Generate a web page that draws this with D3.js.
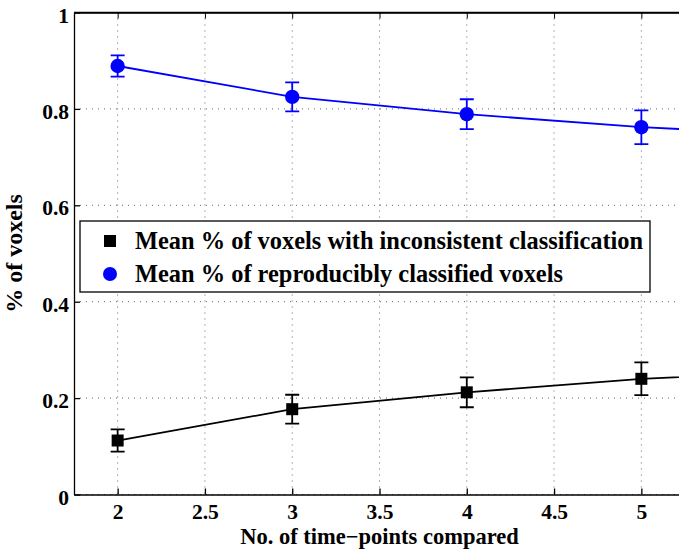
<!DOCTYPE html>
<html>
<head>
<meta charset="utf-8">
<script src="https://cdn.jsdelivr.net/npm/d3@7"></script>
<style>
  body { margin: 0; background: #fff; }
</style>
</head>
<body>
<svg id="chart"></svg>
<script>
// data (x = 6 lies outside the axis, only its line segment shows)
const timePoints = [2, 3, 4, 5, 6];
const reproducible = [0.889, 0.825, 0.789, 0.762, 0.745];
const reproducibleErr = [0.022, 0.030, 0.031, 0.035, 0.035];
const inconsistent = [0.112, 0.177, 0.212, 0.240, 0.256];
const inconsistentErr = [0.023, 0.030, 0.031, 0.034, 0.035];
const xTicks = [2, 2.5, 3, 3.5, 4, 4.5, 5];
const yTicks = [0, 0.2, 0.4, 0.6, 0.8, 1];
const legendLabels = ['Mean % of voxels with inconsistent classification', 'Mean % of reproducibly classified voxels'];

const fontFamily = 'Liberation Serif, Times New Roman, serif';
const width = 679;
const height = 549;
const margin = { top: 12.5, right: -6, bottom: 54.5, left: 74 };
const innerW = width - margin.left - margin.right;
const innerH = height - margin.top - margin.bottom;

const xScale = d3.scaleLinear().domain([1.75, 5.25]).range([0, innerW]);
const yScale = d3.scaleLinear().domain([0, 1]).range([innerH, 0]);

const svg = d3.select('#chart')
  .attr('width', width)
  .attr('height', height)
  .attr('font-family', fontFamily)
  .attr('font-weight', 'bold');

svg.append('defs').append('clipPath')
  .attr('id', 'plot-clip')
  .append('rect')
  .attr('width', innerW)
  .attr('height', innerH);

const chart = svg.append('g')
  .attr('transform', `translate(${margin.left},${margin.top})`);

// Grid
const grid = chart.append('g').attr('stroke', '#666').attr('stroke-width', 1).attr('stroke-dasharray', '1,5');
grid.selectAll('.gx')
  .data(xTicks)
  .enter()
  .append('line')
  .attr('x1', d => xScale(d)).attr('x2', d => xScale(d))
  .attr('y1', 0).attr('y2', innerH);
grid.selectAll('.gy')
  .data(yTicks)
  .enter()
  .append('line')
  .attr('x1', 0).attr('x2', innerW)
  .attr('y1', d => yScale(d)).attr('y2', d => yScale(d));

// Axes (ticks point inward like MATLAB)
const xAxis = d3.axisBottom(xScale).tickValues(xTicks).tickSizeInner(-6).tickSizeOuter(0).tickPadding(9).tickFormat(d3.format('~g'));
const yAxis = d3.axisLeft(yScale).tickValues(yTicks).tickSizeInner(-6).tickSizeOuter(0).tickPadding(5).tickFormat(d3.format('~g'));

const gx = chart.append('g')
  .attr('transform', `translate(0,${innerH})`)
  .call(xAxis);
const gy = chart.append('g').call(yAxis);
chart.append('g').call(d3.axisTop(xScale).tickValues(xTicks).tickSizeInner(-6).tickSizeOuter(0).tickFormat(''));

[gx, gy].forEach(g => {
  g.attr('font-family', fontFamily).attr('font-size', 21.5).attr('font-weight', 'bold');
  g.selectAll('text').attr('fill', '#000');
  g.selectAll('line, path').attr('stroke', '#000').attr('stroke-width', 1.3);
});
gx.selectAll('text').attr('dy', '0.71em');
gy.selectAll('text').attr('dy', '0.45em');
chart.selectAll('.domain').attr('stroke-width', 1.3);

// frame top line
chart.append('line')
  .attr('x1', 0).attr('x2', innerW)
  .attr('y1', 0).attr('y2', 0)
  .attr('stroke', '#000').attr('stroke-width', 1.3);

// Series
const series = [
  { values: inconsistent, err: inconsistentErr, color: '#000', shape: 'square' },
  { values: reproducible, err: reproducibleErr, color: '#0000ff', shape: 'circle' }
];

const plot = chart.append('g').attr('clip-path', 'url(#plot-clip)');
const line = d3.line().x(d => xScale(d[0])).y(d => yScale(d[1]));

series.forEach(s => {
  const pts = timePoints.map((t, i) => [t, s.values[i], s.err[i]]);
  plot.append('path')
    .datum(pts)
    .attr('fill', 'none')
    .attr('stroke', s.color)
    .attr('stroke-width', 1.8)
    .attr('d', line);

  const eb = plot.append('g').attr('stroke', s.color).attr('stroke-width', 1.8);
  eb.selectAll('.v')
    .data(pts)
    .enter()
    .append('line')
    .attr('x1', d => xScale(d[0])).attr('x2', d => xScale(d[0]))
    .attr('y1', d => yScale(d[1] - d[2])).attr('y2', d => yScale(d[1] + d[2]));
  eb.selectAll('.cap')
    .data(pts.flatMap(d => [[d[0], d[1] - d[2]], [d[0], d[1] + d[2]]]))
    .enter()
    .append('line')
    .attr('x1', d => xScale(d[0]) - 7).attr('x2', d => xScale(d[0]) + 7)
    .attr('y1', d => yScale(d[1])).attr('y2', d => yScale(d[1]));

  if (s.shape === 'circle') {
    plot.selectAll('.dot')
      .data(pts)
      .enter()
      .append('circle')
      .attr('cx', d => xScale(d[0]))
      .attr('cy', d => yScale(d[1]))
      .attr('r', 7.2)
      .attr('fill', s.color);
  } else {
    plot.selectAll('.sq')
      .data(pts)
      .enter()
      .append('rect')
      .attr('x', d => xScale(d[0]) - 6)
      .attr('y', d => yScale(d[1]) - 6)
      .attr('width', 12)
      .attr('height', 12)
      .attr('fill', s.color);
  }
});

// Legend
const legend = svg.append('g').attr('transform', 'translate(80,221)');
legend.append('rect')
  .attr('width', 570)
  .attr('height', 71)
  .attr('fill', '#fff')
  .attr('stroke', '#000')
  .attr('stroke-width', 1.3);
legendLabels.forEach((label, i) => {
  const y = 20 + i * 33;
  if (series[i].shape === 'square') {
    legend.append('rect').attr('x', 24).attr('y', y - 6).attr('width', 12).attr('height', 12).attr('fill', series[i].color);
  } else {
    legend.append('circle').attr('cx', 30).attr('cy', y).attr('r', 7).attr('fill', series[i].color);
  }
  legend.append('text')
    .attr('x', 55)
    .attr('y', y + 7.5)
    .attr('font-size', 24.4)
    .text(label);
});

// Axis titles
svg.append('text')
  .attr('x', margin.left + xScale(3.5))
  .attr('y', 543.5)
  .attr('text-anchor', 'middle')
  .attr('font-size', 22.5)
  .text('No. of time\u2212points compared');

svg.append('text')
  .attr('transform', `translate(22,${margin.top + innerH / 2}) rotate(-90)`)
  .attr('text-anchor', 'middle')
  .attr('font-size', 24)
  .text('% of voxels');
</script>
</body>
</html>
